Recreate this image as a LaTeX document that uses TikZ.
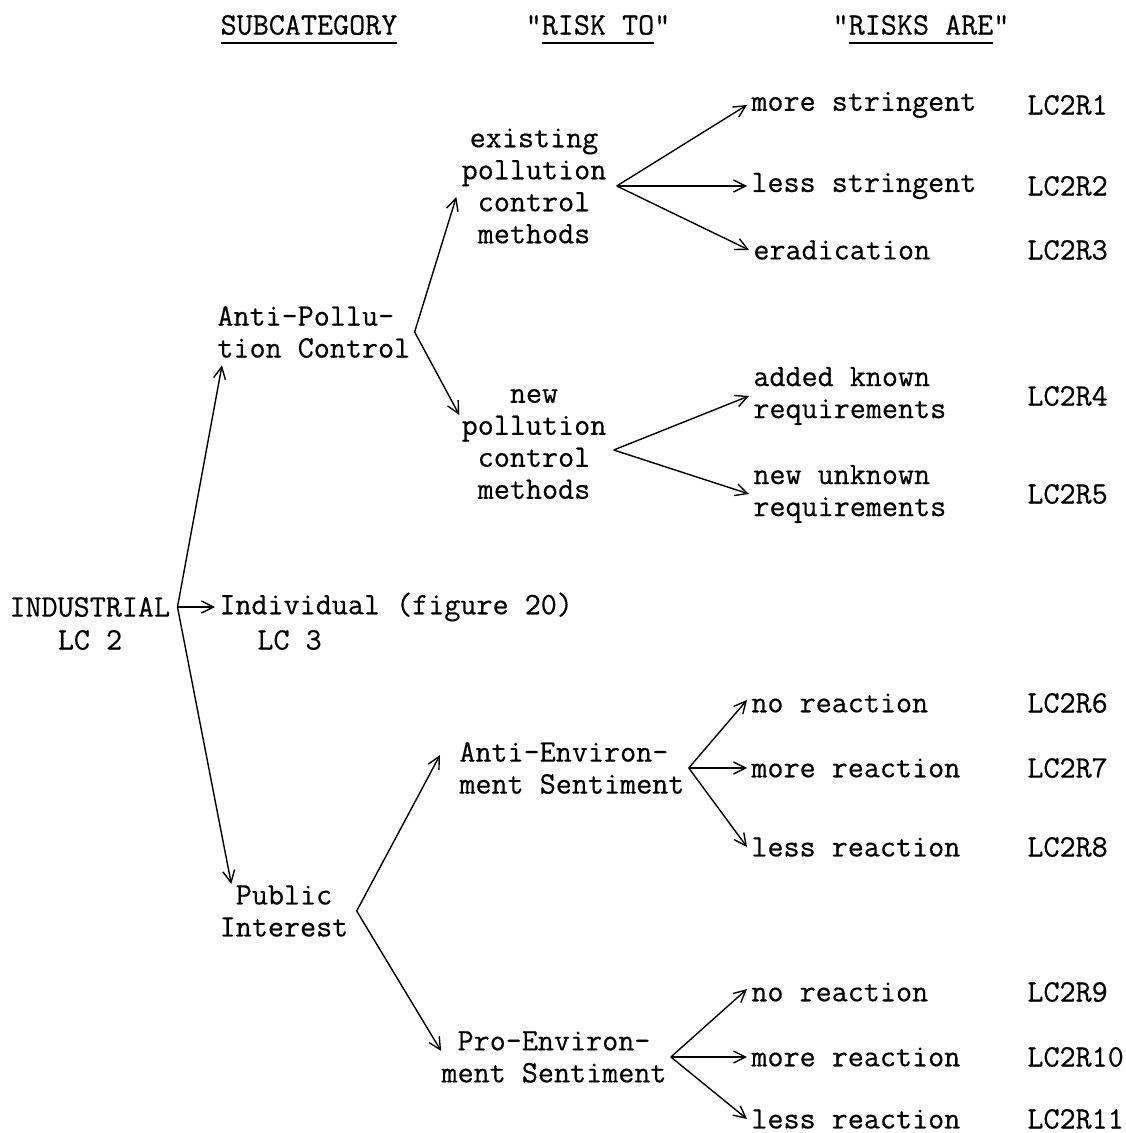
\documentclass[tikz,border=0pt]{standalone}
\usepackage{fontspec}
\newfontfamily\typewriter[FakeBold=0.4]{Latin Modern Mono}
\usetikzlibrary{arrows.meta,calc}
% underline drawn beneath a heading word without changing the box size
\newcommand\headul[1]{\setbox0\hbox{#1}\rlap{\smash{\raisebox{-4.8pt}{\rule{\wd0}{1.1pt}}}}\box0}
\begin{document}
\begin{tikzpicture}[x=0.5pt,y=-0.5pt,
  lbl/.style={font=\typewriter\fontsize{15.6}{16}\selectfont, inner sep=2pt},
  arr/.style={-{Straight Barb[length=6pt,width=6pt]}, line width=0.7pt}]
\useasboundingbox (0,0) rectangle (1125,1133);

% column headings
\node[lbl] (h1) at (309,25) {\headul{SUBCATEGORY}};
\node[lbl] (h2) at (598,25) {"\headul{RISK TO}"};
\node[lbl] (h3) at (921,25) {"\headul{RISKS ARE}"};

% root and subcategories
\node[lbl, anchor=west] (ind) at (5,607) {INDUSTRIAL};
\node[lbl] (lc2) at (90,640) {LC 2};
\node[lbl, anchor=west] (indiv) at (215,607) {Individual (figure 20)};
\node[lbl, anchor=west] (lc3) at (253,640) {LC 3};
\node[lbl, anchor=west, align=left] (anti) at (213,332) {Anti-Pollu-\\tion Control};
\node[lbl, align=center] (pub) at (284,911) {Public\\Interest};

% "risk to" column
\node[lbl, align=center] (ex) at (534,186) {existing\\pollution\\control\\methods};
\node[lbl, align=center] (nw) at (534,444) {new\\pollution\\control\\methods};
\node[lbl, anchor=west, align=left] (ae) at (455,768) {Anti-Environ-\\ment Sentiment};
\node[lbl, align=center] (pe) at (554,1057) {Pro-Environ-\\ment Sentiment};

% "risks are" column
\node[lbl, anchor=west] (ms) at (747,105) {more stringent};
\node[lbl, anchor=west] (ls) at (747,186) {less stringent};
\node[lbl, anchor=west] (er) at (749,250) {eradication};
\node[lbl, anchor=west, align=left] (ak) at (749,396) {added known\\requirements};
\node[lbl, anchor=west, align=left] (nu) at (749,494) {new unknown\\requirements};
\node[lbl, anchor=west] (nr1) at (747,703) {no reaction};
\node[lbl, anchor=west] (mr1) at (747,768) {more reaction};
\node[lbl, anchor=west] (lr1) at (747,847) {less reaction};
\node[lbl, anchor=west] (nr2) at (747,992) {no reaction};
\node[lbl, anchor=west] (mr2) at (747,1057) {more reaction};
\node[lbl, anchor=west] (lr2) at (747,1119) {less reaction};

% codes
\node[lbl, anchor=west] (r1) at (1023,105) {LC2R1};
\node[lbl, anchor=west] (r2) at (1023,186) {LC2R2};
\node[lbl, anchor=west] (r3) at (1023,250) {LC2R3};
\node[lbl, anchor=west] (r4) at (1023,396) {LC2R4};
\node[lbl, anchor=west] (r5) at (1023,494) {LC2R5};
\node[lbl, anchor=west] (r6) at (1023,703) {LC2R6};
\node[lbl, anchor=west] (r7) at (1023,768) {LC2R7};
\node[lbl, anchor=west] (r8) at (1023,847) {LC2R8};
\node[lbl, anchor=west] (r9) at (1023,992) {LC2R9};
\node[lbl, anchor=west] (r10) at (1023,1057) {LC2R10};
\node[lbl, anchor=west] (r11) at (1023,1119) {LC2R11};

% fork points
\coordinate (indf) at ($(ind.east)+(3,0)$);
\coordinate (exf) at ($(ex.east)+(6,0)$);
\coordinate (nwf) at ($(nw.east)+(3,6)$);
\coordinate (pubf) at ($(pub.east)+(4,0)$);

% branches
\draw[arr] (indf) -- ($(anti.south west)+(9,3)$);
\draw[arr] (indf) -- (indiv.west);
\draw[arr] (indf) -- ($(pub.north west)+(16,3)$);

\draw[arr] (anti.east) -- ($(ex.west)+(-1,11)$);
\draw[arr] (anti.east) -- ($(nw.west)+(2,-29)$);

\draw[arr] (exf) -- (ms.west);
\draw[arr] (exf) -- (ls.west);
\draw[arr] (exf) -- (er.west);

\draw[arr] (nwf) -- (ak.west);
\draw[arr] (nwf) -- (nu.west);

\draw[arr] (pubf) -- ($(ae.west)+(-15,-13)$);
\draw[arr] (pubf) -- ($(pe.west)+(4,-6)$);

\draw[arr] (ae.east) -- ($(nr1.west)+(0,-3)$);
\draw[arr] (ae.east) -- (mr1.west);
\draw[arr] (ae.east) -- (lr1.west);

\draw[arr] (pe.east) -- ($(nr2.west)+(0,-3)$);
\draw[arr] (pe.east) -- (mr2.west);
\draw[arr] (pe.east) -- (lr2.west);
\end{tikzpicture}
\end{document}
